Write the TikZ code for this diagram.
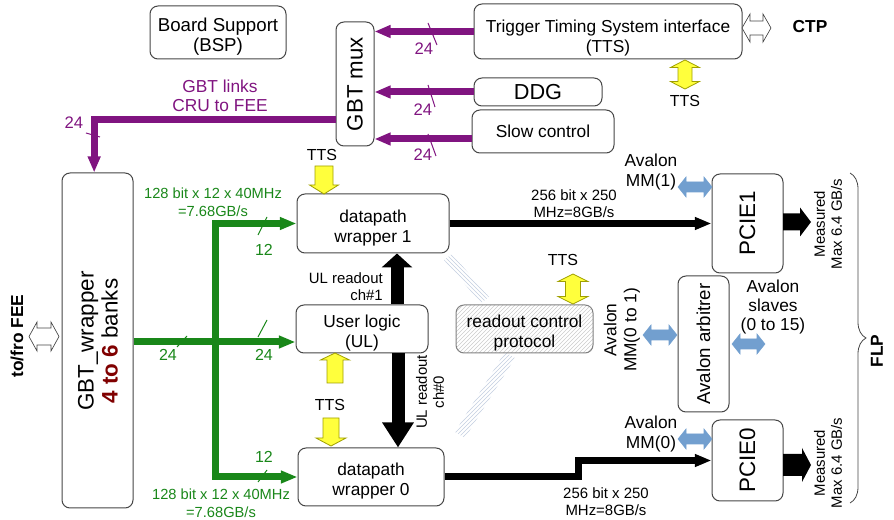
\documentclass[tikz,border=0pt]{standalone}
\usepackage{fontspec}
\setmainfont{Liberation Sans}
\usetikzlibrary{arrows.meta,patterns,decorations.pathreplacing,fit,calc}
\definecolor{gpurple}{RGB}{128,20,128}
\definecolor{ggreen}{RGB}{25,135,25}
\definecolor{dred}{RGB}{128,0,0}
\definecolor{yfill}{RGB}{255,255,60}
\definecolor{yline}{RGB}{160,160,0}
\definecolor{ablue}{RGB}{114,159,207}
\definecolor{bline}{RGB}{70,70,70}
\definecolor{hatchc}{RGB}{195,206,224}
\newcommand\myfs[2]{\fontsize{#1pt}{#2pt}\selectfont}
% vertical single arrow: [style]{x}{ytail}{yheadbase}{ytip}{shaft half}{head half}
\newcommand\vArr[7][]{\path[#1] ({#2-#6},#3) -- ({#2-#6},#4) -- ({#2-#7},#4) -- (#2,#5) -- ({#2+#7},#4) -- ({#2+#6},#4) -- ({#2+#6},#3) -- cycle;}
% vertical double arrow: [style]{x}{ytop}{ybot}{headlen}{shaft half}{head half}
\newcommand\vDArr[7][]{\path[#1] (#2,#3) -- ({#2+#7},{#3+#5}) -- ({#2+#6},{#3+#5}) -- ({#2+#6},{#4-#5}) -- ({#2+#7},{#4-#5}) -- (#2,#4) -- ({#2-#7},{#4-#5}) -- ({#2-#6},{#4-#5}) -- ({#2-#6},{#3+#5}) -- ({#2-#7},{#3+#5}) -- cycle;}
% horizontal double arrow: [style]{y}{xl}{xr}{headlen}{shaft half}{head half}
\newcommand\hDArr[7][]{\path[#1] (#3,#2) -- ({#3+#5},{#2-#7}) -- ({#3+#5},{#2-#6}) -- ({#4-#5},{#2-#6}) -- ({#4-#5},{#2-#7}) -- (#4,#2) -- ({#4-#5},{#2+#7}) -- ({#4-#5},{#2+#6}) -- ({#3+#5},{#2+#6}) -- ({#3+#5},{#2+#7}) -- cycle;}
% horizontal single arrow: [style]{y}{xtail}{xheadbase}{xtip}{shaft half}{head half}
\newcommand\hArr[7][]{\path[#1] (#3,{#2-#6}) -- (#4,{#2-#6}) -- (#4,{#2-#7}) -- (#5,#2) -- (#4,{#2+#7}) -- (#4,{#2+#6}) -- (#3,{#2+#6}) -- cycle;}
\begin{document}
\begin{tikzpicture}[x=0.75pt,y=-0.75pt,
  box/.style={draw=bline, line width=0.75pt, rounded corners=6pt, fill=white, inner sep=0pt},
  lbl/.style={inner sep=0pt, align=center},
  btxt/.style={lbl, font=\myfs{13}{15}, yshift=-3.2pt},
  parrow/.style={draw=gpurple, line width=5.25pt, -{Triangle[length=12pt,width=9pt]}},
  garrow/.style={draw=ggreen, line width=5.25pt, -{Triangle[length=12.5pt,width=9pt]}},
  barrow/.style={draw=black, line width=5.25pt, -{Triangle[length=12.5pt,width=9pt]}},
  bigup/.style={draw=black, line width=9.75pt, -{Triangle[length=10.5pt,width=22.5pt]}},
  bigdn/.style={draw=black, line width=9.75pt, -{Triangle[length=18.75pt,width=22.5pt]}},
  pslash/.style={draw=gpurple, line width=0.75pt},
  gslash/.style={draw=ggreen, line width=0.75pt},
  yarr/.style={fill=yfill, draw=yline, line width=0.6pt},
  barr/.style={fill=ablue, draw=ablue, line width=0.4pt},
  warr/.style={fill=white, draw=bline, line width=0.5pt},
  karr/.style={fill=black},
  plbl/.style={lbl, text=gpurple, font=\myfs{12.5}{14}},
  glbl/.style={lbl, text=ggreen, font=\myfs{12}{14}},
  ttsl/.style={lbl, font=\myfs{12}{14}},
  smal/.style={lbl, font=\myfs{11.2}{12.8}},
  aval/.style={lbl, font=\myfs{13}{15}},
  bold/.style={lbl, font=\bfseries\myfs{13}{15}}]
\useasboundingbox (0,0) rectangle (894,520);

% faint hatched bands
\fill[pattern=north west lines, pattern color=hatchc] (452,254) -- (489,297) -- (481,303) -- (444,260) -- cycle;
\fill[pattern=north east lines, pattern color=hatchc] (515,358) -- (465,438) -- (455,432) -- (505,352) -- cycle;

% boxes
\node[box, fit={(150,6)(286,59)}] (bsp) {};
\node[btxt, font=\myfs{14}{15}] (bspt) at (bsp.center) {Board Support\\(BSP)};
\node[box, fit={(336,22)(374,146)}] (mux) {};
\node[lbl, rotate=90, font=\myfs{16.7}{18}] (muxt) at (mux.center) {GBT mux};
\node[box, fit={(474,4)(742,59)}] (tts) {};
\node[btxt, yshift=-1.8pt] (ttst) at (tts.center) {Trigger Timing System interface\\(TTS)};
\node[box, fit={(474,78)(602,106)}] (ddg) {};
\node[lbl, font=\myfs{16.3}{18}] (ddgt) at (ddg.center) {DDG};
\node[box, fit={(472,110)(614,153)}] (slow) {};
\node[lbl, font=\myfs{13}{15}] (slowt) at (slow.center) {Slow control};
\node[box, fit={(62,173)(133,508)}] (gbtw) {};
\node[lbl, rotate=90, font=\myfs{16.8}{18}] (gbtwt) at (98,341) {GBT\_wrapper\\{\bfseries\color{dred}4 to 6} banks};
\node[box, fit={(297,194)(449,253)}] (dw1) {};
\node[btxt] (dw1t) at (dw1.center) {datapath\\wrapper 1};
\node[box, fit={(296,305)(428,353)}] (ul) {};
\node[btxt] (ult) at (ul.center) {User logic\\(UL)};
\node[box, fit={(298,448)(444,506)}] (dw0) {};
\node[btxt] (dw0t) at (dw0.center) {datapath\\wrapper 0};
\node[box, fit={(456,305)(593,353)}, draw=gray, pattern=north east lines, pattern color=gray!40] (rcp) {};
\node[btxt] (rcpt) at (rcp.center) {readout control\\protocol};
\node[box, fit={(712,174)(783,273)}] (pcie1) {};
\node[lbl, rotate=90, font=\myfs{16.8}{18}] (pcie1t) at (pcie1.center) {PCIE1};
\node[box, fit={(678,276)(729,412)}] (arb) {};
\node[lbl, rotate=90, font=\myfs{14}{15}] (arbt) at (arb.center) {Avalon arbitrer};
\node[box, fit={(712,420)(783,501)}] (pcie0) {};
\node[lbl, rotate=90, font=\myfs{16.8}{18}] (pcie0t) at (pcie0.center) {PCIE0};

% purple links
\draw[parrow] (tts.west) -- (tts.west -| mux.east);
\draw[parrow] (ddg.west) -- (ddg.west -| mux.east);
\path (slow.west) ++(0,7.5) coordinate (slowout);
\draw[parrow] (slowout) -- (slowout -| mux.east);
\path (mux.west) ++(0,36) coordinate (muxout);
\draw[parrow] (muxout) -| ([xshift=-2.5pt]gbtw.north);
\draw[pslash] (428,23) -- (437,45);
\draw[pslash] (428,85) -- (435,107);
\draw[pslash] (428,134) -- (436,156);
\draw[pslash] (86,133) -- (100,137);
\node[plbl] (n24a) at (424,49) {24};
\node[plbl] (n24b) at (423,110) {24};
\node[plbl] (n24c) at (423,155) {24};
\node[plbl] (n24d) at (74,123) {24};
\node[lbl, text=gpurple, font=\myfs{13}{14.3}] (gbtlinks) at (220,96) {GBT links\\CRU to FEE};

% green links
\coordinate (gsplit) at (215,342);
\draw[garrow] (gbtw.east |- gsplit) -- (gsplit -| ul.west);
\draw[garrow] (gsplit) |- (dw1.west);
\draw[garrow] (gsplit) |- (dw0.west);
\draw[gslash] (177,347) -- (187,336);
\draw[gslash] (258,235) -- (267,217);
\draw[gslash] (258,337) -- (267,320);
\draw[gslash] (258,482) -- (267,470);
\node[glbl] (g24a) at (168,355) {24};
\node[glbl] (g12a) at (264,250) {12};
\node[glbl] (g24b) at (264,355) {24};
\node[glbl] (g12b) at (264,457) {12};
\node[lbl, text=ggreen, font=\myfs{11}{13.8}] (gtop) at (213,202) {128 bit x 12 x 40MHz\\=7.68GB/s};
\node[lbl, text=ggreen, font=\myfs{11}{13.8}] (gbot) at (221,503) {128 bit x 12 x 40MHz\\=7.68GB/s};

% black data links
\draw[barrow] (dw1.east) -- (pcie1.west);
\draw[barrow] (dw0.east) -- ++(134,0) |- (pcie0.west);
\node[smal] (bw1) at (574,204) {256 bit x 250\\MHz=8GB/s};
\node[smal] (bw0) at (606,502) {256 bit x 250\\MHz=8GB/s};

% UL readout
\path (ul.north) ++(35,0) coordinate (ulup);
\draw[bigup] (ulup) -- (ulup |- dw1.south);
\path (ul.south) ++(36,0) coordinate (uldn);
\draw[bigdn] (uldn) -- (uldn |- dw0.north);
\node[smal, anchor=east, align=right] (ulr1) at (383,287) {UL readout\\ch\#1};
\node[smal, rotate=90] (ulr0) at (430,392) {UL readout\\ch\#0};

% TTS yellow arrows
\vArr[yarr]{324}{166}{185}{194}{9}{14.5}
\vArr[yarr]{335}{383}{360}{353}{8}{14.5}
\vArr[yarr]{331}{418}{438}{446}{8}{15}
\vDArr[yarr]{685}{60}{89}{7.5}{7}{14.5}
\vDArr[yarr]{573}{274}{304}{7.5}{7.5}{15}
\node[ttsl] (tts1) at (322,155) {TTS};
\node[ttsl] (tts2) at (330,405) {TTS};
\node[ttsl] (tts3) at (685,101) {TTS};
\node[ttsl] (tts4) at (563,260) {TTS};

% Avalon
\hDArr[barr]{187}{678}{712}{8}{5}{10}
\hDArr[barr]{439}{678}{712}{8}{5}{10}
\hDArr[barr]{335}{643}{677}{8}{5}{10}
\hDArr[barr]{344}{732}{765}{8}{5}{10}
\node[aval] (av1) at (651,172) {Avalon\\MM(1)};
\node[aval] (av0) at (651,434) {Avalon\\MM(0)};
\node[aval, rotate=90] (av01) at (622,330) {Avalon\\MM(0 to 1)};
\node[aval, font=\myfs{13}{14.6}] (avs) at (773,307) {Avalon\\slaves\\(0 to 15)};

% PCIe outputs
\hArr[karr]{222}{783}{800}{811}{8.5}{14.5}
\hArr[karr]{465}{783}{802}{811}{11}{17}
\node[smal, rotate=90] (meas1) at (828,224) {Measured\\Max 6.4 GB/s};
\node[smal, rotate=90] (meas0) at (828,463) {Measured\\Max 6.4 GB/s};

% external
\hDArr[warr]{28}{742}{771}{8}{7}{14}
\hDArr[warr]{336.5}{29}{59}{8}{8.5}{14.5}
\node[bold] (ctp) at (810,27) {CTP};
\node[bold, rotate=90] (fee) at (17,336) {to/fro FEE};
\draw[bline, line width=0.6pt, decorate, decoration={brace, amplitude=12pt}] (850,173) -- (850,503);
\node[bold, rotate=90] (flp) at (877,351) {FLP};
\end{tikzpicture}
\end{document}
